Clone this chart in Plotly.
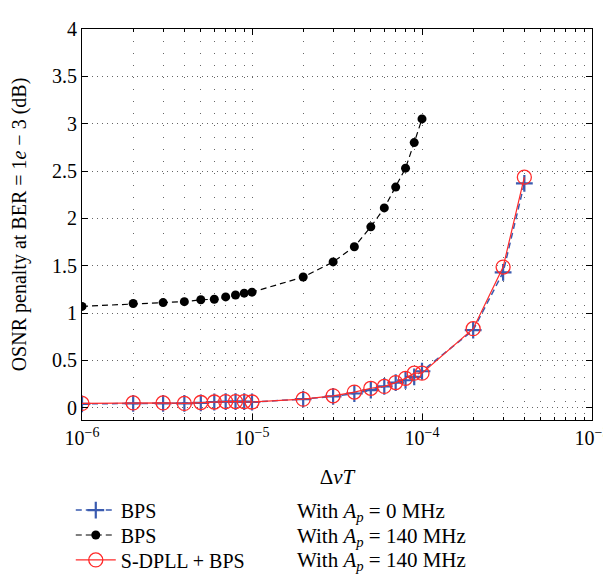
import plotly.graph_objects as go

# ---- data ----
x_black = [1e-6, 2e-6, 3e-6, 4e-6, 5e-6, 6e-6, 7e-6, 8e-6, 9e-6, 1e-5,
           2e-5, 3e-5, 4e-5, 5e-5, 6e-5, 7e-5, 8e-5, 9e-5, 1e-4]
y_black = [1.07, 1.10, 1.11, 1.12, 1.14, 1.145, 1.17, 1.19, 1.21, 1.22,
           1.38, 1.54, 1.70, 1.91, 2.11, 2.33, 2.53, 2.80, 3.05]

x_rb = [1e-6, 2e-6, 3e-6, 4e-6, 5e-6, 6e-6, 7e-6, 8e-6, 9e-6, 1e-5,
        2e-5, 3e-5, 4e-5, 5e-5, 6e-5, 7e-5, 8e-5, 9e-5, 1e-4,
        2e-4, 3e-4, 4e-4]
y_blue = [0.04, 0.045, 0.045, 0.045, 0.05, 0.06, 0.065, 0.065, 0.065, 0.06,
          0.09, 0.12, 0.15, 0.185, 0.225, 0.265, 0.29, 0.325, 0.385,
          0.82, 1.43, 2.37]
y_red = [0.045, 0.05, 0.05, 0.045, 0.055, 0.06, 0.065, 0.065, 0.065, 0.06,
         0.09, 0.125, 0.165, 0.205, 0.225, 0.265, 0.31, 0.365, 0.365,
         0.835, 1.485, 2.435]

names = ["BPS", "BPS", "S-DPLL + BPS"]
right_text = ["With <i>A</i><sub><i>p</i></sub> = 0 MHz",
              "With <i>A</i><sub><i>p</i></sub> = 140 MHz",
              "With <i>A</i><sub><i>p</i></sub> = 140 MHz"]
xtick_vals = [1e-6, 1e-5, 1e-4, 1e-3]
xtick_text = ["10<sup>−6</sup>", "10<sup>−5</sup>", "10<sup>−4</sup>", "10<sup>−3</sup>"]
ytick_vals = [0, 0.5, 1, 1.5, 2, 2.5, 3, 3.5, 4]
ytick_text = ["0", "0.5", "1", "1.5", "2", "2.5", "3", "3.5", "4"]

BLUE = "#3A5BB0"
RED = "#FF2A2A"
FONT = "Liberation Serif"

# legend row positions (paper coords): plot spans y=10..418 px
row_y = [(418 - 512) / 408, (418 - 538) / 408, (418 - 564) / 408]

fig = go.Figure()
fig.add_trace(go.Scatter(
    x=x_rb, y=y_blue, name=names[0], mode="lines+markers",
    line=dict(color=BLUE, width=1.5, dash="6px,4px"),
    marker=dict(symbol="cross-thin-open", size=12, line=dict(color=BLUE, width=2.2)),
    legend="legend"))
fig.add_trace(go.Scatter(
    x=x_black, y=y_black, name=names[1], mode="lines+markers",
    line=dict(color="black", width=1.2, dash="6px,4px"),
    marker=dict(symbol="circle", size=9, color="black"),
    legend="legend2"))
fig.add_trace(go.Scatter(
    x=x_rb, y=y_red, name=names[2], mode="lines+markers",
    line=dict(color=RED, width=1.2),
    marker=dict(symbol="circle-open", size=14, line=dict(color=RED, width=1.3)),
    legend="legend3"))

for i, t in enumerate(right_text):
    fig.add_annotation(text=t, xref="paper", yref="paper",
                       x=0.418, y=row_y[i] - 0.004, xanchor="left", yanchor="middle",
                       showarrow=False, font=dict(family=FONT, size=21, color="black"))

leg_common = dict(x=-0.022, xanchor="left", yanchor="middle",
                  font=dict(family=FONT, size=20), itemwidth=40,
                  bgcolor="rgba(0,0,0,0)")

fig.update_layout(
    width=611, height=581,
    margin=dict(l=73, r=20, t=10, b=163),
    paper_bgcolor="white", plot_bgcolor="white",
    font=dict(family=FONT, size=20, color="black"),
    showlegend=True,
    legend=dict(y=row_y[0], **leg_common),
    legend2=dict(y=row_y[1], **leg_common),
    legend3=dict(y=row_y[2], **leg_common),
)
fig.update_xaxes(
    type="log", range=[-6, -3],
    tickvals=xtick_vals, ticktext=xtick_text,
    ticks="inside", ticklen=6, tickcolor="black",
    showline=True, linecolor="black", linewidth=1, mirror="ticks",
    showgrid=True, gridcolor="#666666", griddash="1px,11px", gridwidth=1,
    minor=dict(dtick="D1", ticks="inside", ticklen=3, tickcolor="black",
               showgrid=True, gridcolor="#666666", griddash="1px,11px"),
    zeroline=False,
    tickfont=dict(family=FONT, size=20),
    title=dict(text="Δ<i>νT</i>", font=dict(family=FONT, size=21), standoff=21),
)
fig.update_yaxes(
    range=[-0.13, 4], autorange=False,
    tickvals=ytick_vals, ticktext=ytick_text,
    ticks="inside", ticklen=6, tickcolor="black",
    showline=True, linecolor="black", linewidth=1, mirror="ticks",
    showgrid=True, gridcolor="#666666", griddash="1px,4px", gridwidth=1,
    zeroline=False,
    tickfont=dict(family=FONT, size=20),
    title=dict(text="OSNR penalty at BER = 1<i>e</i> − 3 (dB)",
               font=dict(family=FONT, size=20), standoff=20),
)

fig.write_html("out.html")
